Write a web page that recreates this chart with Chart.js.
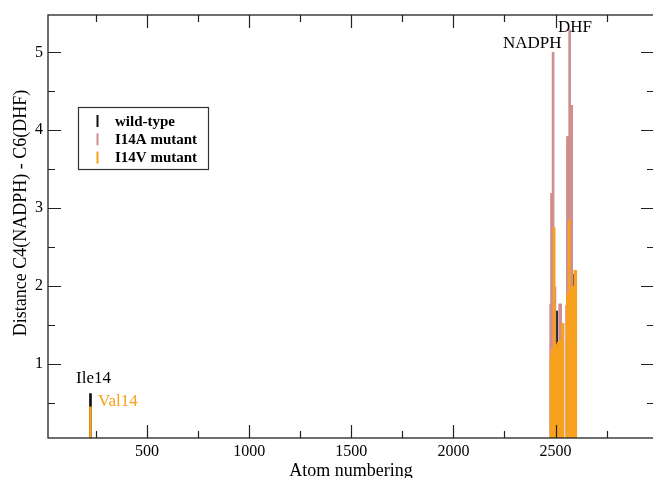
<!DOCTYPE html>
<html>
<head>
<meta charset="utf-8">
<title>Distance C4(NADPH) - C6(DHF)</title>
<script src="https://cdn.jsdelivr.net/npm/chart.js@4.4.0/dist/chart.umd.min.js"></script>
<style>
  html, body { margin: 0; padding: 0; background: #fff; overflow: hidden; }
  #wrap { width: 670px; height: 478px; }
</style>
</head>
<body>
<div id="wrap"><canvas id="distChart" width="670" height="478"></canvas></div>
<script>
// values (atom number -> distance)
const wtAtoms = [223, 2505, 2588];
const wtDist = [0.62, 1.68, 2.15];

const i14aAtoms = [2476, 2480, 2488, 2497, 2520, 2525, 2554, 2558, 2563, 2569, 2574, 2579];
const i14aDist = [1.77, 3.19, 5.00, 1.99, 1.77, 1.77, 1.75, 3.92, 3.92, 5.29, 4.32, 4.32];

const i14vAtoms = [223, 2478, 2483, 2493, 2500, 2505, 2512, 2516, 2522, 2528, 2533, 2537,
                   2558, 2562, 2567, 2572, 2577, 2582, 2588, 2594, 2599];
const i14vDist = [0.45, 1.10, 1.20, 2.75, 1.25, 1.21, 1.28, 1.28, 1.30, 1.30, 1.52, 1.52,
                  1.90, 1.90, 2.85, 1.95, 1.95, 2.00, 1.99, 2.20, 2.20];

const xMajorTicks = [500, 1000, 1500, 2000, 2500];
const xMinorTicks = [250, 750, 1250, 1750, 2250, 2750];
const yMajorTicks = [1, 2, 3, 4, 5];
const yMinorTicks = [0.5, 1.5, 2.5, 3.5, 4.5];

const BLACK = '#111111';
const PINK = '#d08e8e';
const ORANGE = '#f7a11e';
const SERIF = "'Liberation Serif', 'Times New Roman', serif";

const toPoints = (atoms, dist) => atoms.map((a, i) => ({ x: a, y: dist[i] }));

// frame + inward ticks on all four sides (xmgrace style)
const frameTicks = {
    id: 'frameTicks',
    afterDatasetsDraw(chart) {
        const { ctx, chartArea: { left, right, top, bottom }, scales: { x, y } } = chart;
        ctx.save();
        ctx.strokeStyle = '#222';
        ctx.lineWidth = 1.3;
        ctx.strokeRect(left, top, right - left, bottom - top);

        const xTick = (v, len) => {
            const px = Math.round(x.getPixelForValue(v)) + 0.5;
            ctx.beginPath();
            ctx.moveTo(px, bottom); ctx.lineTo(px, bottom - len);
            ctx.moveTo(px, top); ctx.lineTo(px, top + len);
            ctx.stroke();
        };
        const yTick = (v, len) => {
            const py = Math.round(y.getPixelForValue(v)) + 0.5;
            ctx.beginPath();
            ctx.moveTo(left, py); ctx.lineTo(left + len, py);
            ctx.moveTo(right, py); ctx.lineTo(right - len, py);
            ctx.stroke();
        };
        ctx.lineWidth = 1.2;
        xMajorTicks.forEach(v => xTick(v, 13));
        xMinorTicks.forEach(v => xTick(v, 7));
        yMajorTicks.forEach(v => yTick(v, 13));
        yMinorTicks.forEach(v => yTick(v, 7));
        ctx.restore();
    }
};

// axis titles, residue labels and the boxed legend
const labelsPlugin = {
    id: 'labels',
    afterDraw(chart) {
        const { ctx } = chart;
        ctx.save();
        ctx.fillStyle = '#000';
        ctx.textBaseline = 'alphabetic';

        ctx.font = '18px ' + SERIF;
        ctx.textAlign = 'center';
        ctx.fillText('Atom numbering', 351, 476);

        ctx.save();
        ctx.translate(21, 213);
        ctx.rotate(-Math.PI / 2);
        ctx.textBaseline = 'middle';
        ctx.fillText('Distance C4(NADPH) - C6(DHF)', 0, 0);
        ctx.restore();

        ctx.font = '17px ' + SERIF;
        ctx.textAlign = 'left';
        ctx.fillText('NADPH', 503, 48);
        ctx.fillText('DHF', 558, 32);
        ctx.fillText('Ile14', 76, 383);
        ctx.fillStyle = ORANGE;
        ctx.fillText('Val14', 98, 406);

        // legend
        ctx.fillStyle = '#fff';
        ctx.fillRect(78.5, 107.5, 130, 62);
        ctx.strokeStyle = '#333';
        ctx.lineWidth = 1.2;
        ctx.strokeRect(78.5, 107.5, 130, 62);
        const items = [['wild-type', BLACK], ['I14A mutant', PINK], ['I14V mutant', ORANGE]];
        ctx.font = 'bold 15px ' + SERIF;
        ctx.textBaseline = 'middle';
        items.forEach(([text, color], i) => {
            const cy = 121 + i * 18.3;
            ctx.fillStyle = color;
            ctx.fillRect(96.5, cy - 6, 2, 12);
            ctx.fillStyle = '#000';
            ctx.fillText(text, 115, cy + 1);
        });
        ctx.restore();
    }
};

const barDefaults = { grouped: false, barThickness: 2, borderWidth: 0 };

const ctx = document.getElementById('distChart').getContext('2d');
new Chart(ctx, {
    type: 'bar',
    data: {
        datasets: [
            { label: 'wild-type', data: toPoints(wtAtoms, wtDist), backgroundColor: BLACK, order: 3, ...barDefaults },
            { label: 'I14A mutant', data: toPoints(i14aAtoms, i14aDist), backgroundColor: PINK, order: 2, ...barDefaults },
            { label: 'I14V mutant', data: toPoints(i14vAtoms, i14vDist), backgroundColor: ORANGE, order: 1, ...barDefaults }
        ]
    },
    options: {
        responsive: false,
        animation: false,
        layout: { padding: { top: 15, right: 16, left: 0, bottom: 0 } },
        plugins: {
            legend: { display: false },
            tooltip: { enabled: false }
        },
        scales: {
            x: {
                type: 'linear',
                min: 15,
                max: 2982,
                offset: false,
                grid: { display: false, drawTicks: false },
                border: { display: false },
                ticks: {
                    padding: 4,
                    color: '#000',
                    maxRotation: 0,
                    font: { family: SERIF, size: 16 },
                    callback: v => String(v)
                },
                afterBuildTicks: s => { s.ticks = xMajorTicks.map(v => ({ value: v })); },
                afterFit: s => { s.height = 40; }
            },
            y: {
                min: 0.05,
                max: 5.48,
                grid: { display: false, drawTicks: false },
                border: { display: false },
                ticks: {
                    padding: 5,
                    color: '#000',
                    font: { family: SERIF, size: 16 },
                    callback: v => String(v)
                },
                afterBuildTicks: s => { s.ticks = yMajorTicks.map(v => ({ value: v })); },
                afterFit: s => { s.width = 48; }
            }
        }
    },
    plugins: [frameTicks, labelsPlugin]
});
</script>
</body>
</html>
